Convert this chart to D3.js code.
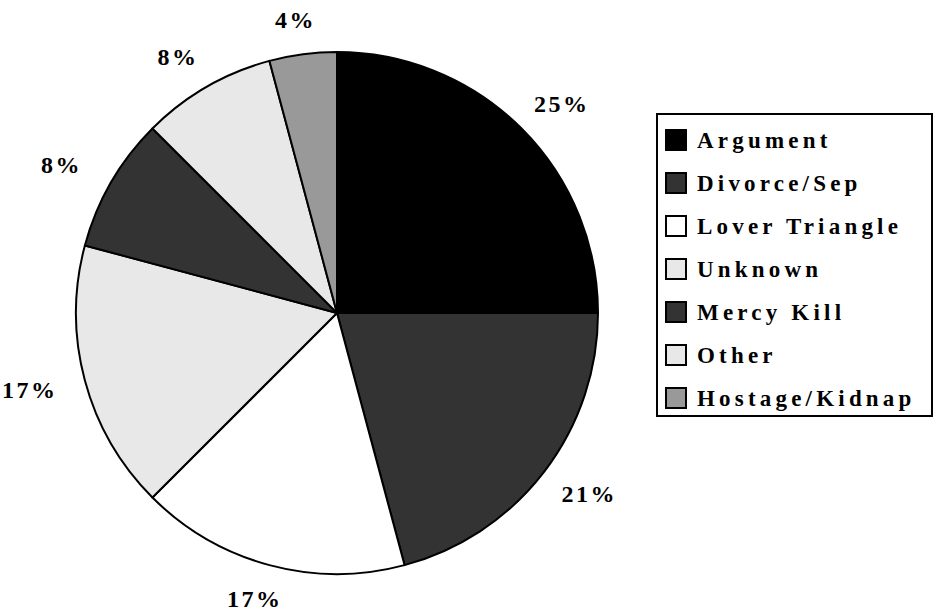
<!DOCTYPE html>
<html>
<head>
<meta charset="utf-8">
<script src="https://cdn.jsdelivr.net/npm/d3@7"></script>
<style>
  html, body { margin: 0; padding: 0; background: #fff; }
  svg { display: block; }
  text { font-family: "Liberation Serif", "Times New Roman", serif; font-weight: bold; fill: #000; }
</style>
</head>
<body>
<svg id="chart" width="935" height="616"></svg>
<script>
const categories = ["Argument", "Divorce/Sep", "Lover Triangle", "Unknown", "Mercy Kill", "Other", "Hostage/Kidnap"];
const values = [6, 5, 4, 4, 2, 2, 1];
const percentLabels = ["25%", "21%", "17%", "17%", "8%", "8%", "4%"];
const colors = ["#000000", "#333333", "#ffffff", "#e8e8e8", "#333333", "#e8e8e8", "#999999"];

const svg = d3.select("#chart");
const cx = 337, cy = 313, r = 261, labelRx = 318, labelRy = 296;

const data = categories.map((c, i) => ({ name: c, value: values[i], label: percentLabels[i], color: colors[i] }));

const pie = d3.pie().value(d => d.value).sort(null);
const arcs = pie(data);
const arc = d3.arc().innerRadius(0).outerRadius(r);

const g = svg.append("g").attr("transform", `translate(${cx},${cy})`);

g.selectAll("path.slice")
  .data(arcs)
  .enter().append("path")
  .attr("class", "slice")
  .attr("d", arc)
  .attr("fill", d => d.data.color)
  .attr("stroke", "#000")
  .attr("stroke-width", 2)
  .attr("stroke-linejoin", "round");

function labelPos(d) {
  const a = (d.startAngle + d.endAngle) / 2;
  return [Math.sin(a) * labelRx, -Math.cos(a) * labelRy];
}

g.selectAll("text.pct")
  .data(arcs)
  .enter().append("text")
  .attr("class", "pct")
  .attr("transform", d => `translate(${labelPos(d)})`)
  .attr("text-anchor", "middle")
  .attr("dy", "0.35em")
  .attr("font-size", 24)
  .attr("letter-spacing", 2.5)
  .text(d => d.data.label);

// Legend
const lx = 657, ly = 114, lw = 275, lh = 302;
const legend = svg.append("g");
legend.append("rect")
  .attr("x", lx).attr("y", ly).attr("width", lw).attr("height", lh)
  .attr("fill", "#fff").attr("stroke", "#000").attr("stroke-width", 2);

const itemY = d3.scalePoint().domain(categories).range([140, 398]);

const items = legend.selectAll("g.item")
  .data(data)
  .enter().append("g")
  .attr("class", "item")
  .attr("transform", d => `translate(0,${itemY(d.name)})`);

items.append("rect")
  .attr("x", 666).attr("y", -10).attr("width", 20).attr("height", 20)
  .attr("fill", d => d.color)
  .attr("stroke", "#000").attr("stroke-width", 2);

items.append("text")
  .attr("x", 697)
  .attr("dy", "0.35em")
  .attr("font-size", 23)
  .attr("letter-spacing", 4.2)
  .text(d => d.name);
</script>
</body>
</html>
